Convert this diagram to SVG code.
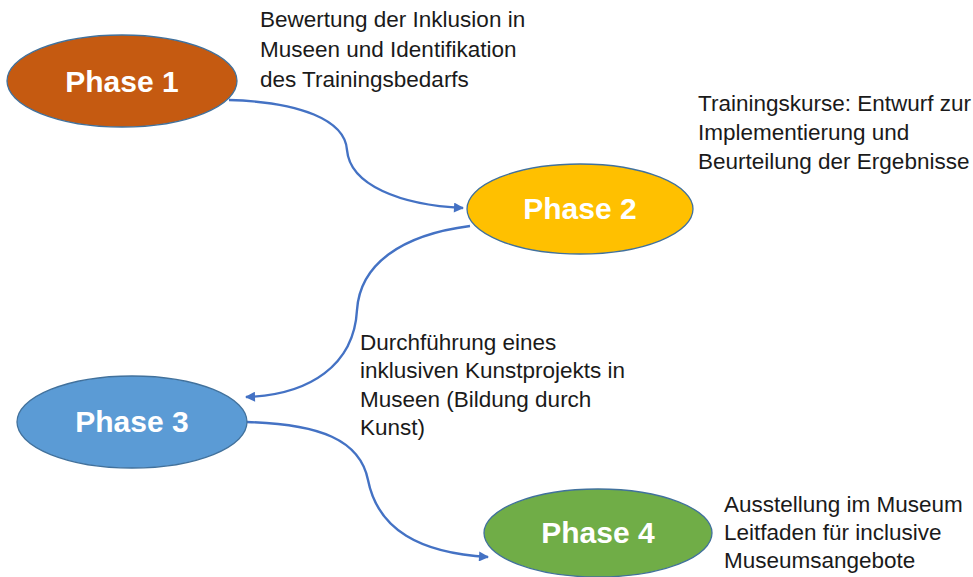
<svg xmlns="http://www.w3.org/2000/svg" width="973" height="577" viewBox="0 0 973 577">
<defs>
<marker id="arr" viewBox="0 0 10 10" refX="9" refY="5" markerUnits="userSpaceOnUse" markerWidth="11" markerHeight="10" orient="auto">
<path d="M0,0 L10,5 L0,10 z" fill="#4472C4"/>
</marker>
</defs>
<style>
.node{stroke:#41719C;stroke-width:1.3}
.lbl{font-family:"Liberation Sans",Arial,sans-serif;font-weight:bold;font-size:30px;fill:#ffffff;text-anchor:middle}
.desc{font-family:"Liberation Sans",Arial,sans-serif;font-size:22.5px;fill:#1a1a1a}
.conn{fill:none;stroke:#4472C4;stroke-width:2.4;marker-end:url(#arr)}
</style>
<rect width="973" height="577" fill="#ffffff"/>
<g id="connectors">
<path class="conn" d="M229,100 C300,102 345,120 347,150 C350,185 400,205 463,208"/>
<path class="conn" d="M470,226 C400,235 360,265 357,310 C354,365 310,395 246,397"/>
<path class="conn" d="M247,422 C320,424 360,440 368,480 C378,530 420,553 488,557"/>
</g>
<g id="phase1">
<ellipse class="node" cx="122" cy="81" rx="115" ry="46" fill="#C55A11"/>
<text class="lbl" x="122" y="92">Phase 1</text>
</g>
<g id="phase2">
<ellipse class="node" cx="580" cy="209" rx="113" ry="45" fill="#FFC000"/>
<text class="lbl" x="580" y="219">Phase 2</text>
</g>
<g id="phase3">
<ellipse class="node" cx="132" cy="422" rx="115" ry="46" fill="#5B9BD5"/>
<text class="lbl" x="132" y="432">Phase 3</text>
</g>
<g id="phase4">
<ellipse class="node" cx="598" cy="533" rx="114" ry="44" fill="#70AD47"/>
<text class="lbl" x="598" y="543">Phase 4</text>
</g>
<g id="text1">
<text class="desc" x="260" y="27">Bewertung der Inklusion in</text>
<text class="desc" x="260" y="57">Museen und Identifikation</text>
<text class="desc" x="260" y="87">des Trainingsbedarfs</text>
</g>
<g id="text2">
<text class="desc" x="698" y="111">Trainingskurse: Entwurf zur</text>
<text class="desc" x="698" y="140">Implementierung und</text>
<text class="desc" x="698" y="169">Beurteilung der Ergebnisse</text>
</g>
<g id="text3">
<text class="desc" x="360" y="350">Durchführung eines</text>
<text class="desc" x="360" y="378">inklusiven Kunstprojekts in</text>
<text class="desc" x="360" y="407">Museen (Bildung durch</text>
<text class="desc" x="360" y="435">Kunst)</text>
</g>
<g id="text4">
<text class="desc" x="724" y="512">Ausstellung im Museum</text>
<text class="desc" x="724" y="540">Leitfaden für inclusive</text>
<text class="desc" x="724" y="568">Museumsangebote</text>
</g>
</svg>
